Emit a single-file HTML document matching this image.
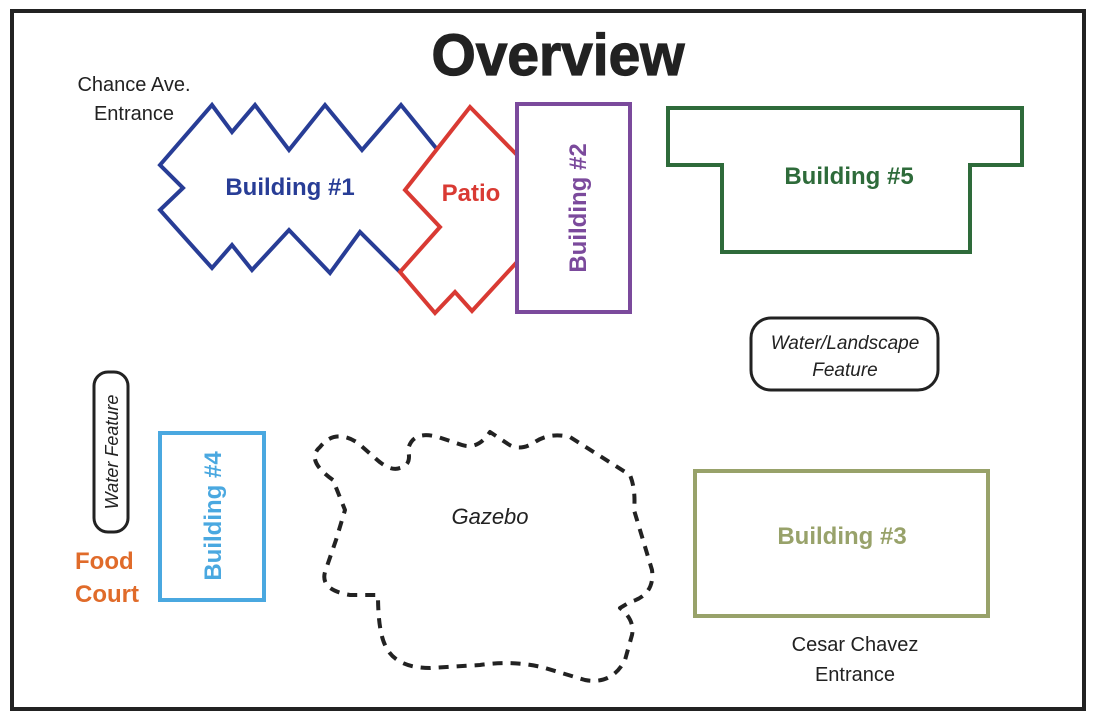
<!DOCTYPE html>
<html><head><style>
html,body{margin:0;padding:0;background:#fff;}
svg{display:block;}
text{font-family:"Liberation Sans",sans-serif;}
</style></head><body>
<svg width="1096" height="718" viewBox="0 0 1096 718" xmlns="http://www.w3.org/2000/svg">
<rect x="12" y="11" width="1072" height="698" fill="none" stroke="#222" stroke-width="4"/>
<text x="558" y="75" font-size="58" font-weight="bold" text-anchor="middle" fill="#222" stroke="#222" stroke-width="1.2" textLength="253" lengthAdjust="spacingAndGlyphs">Overview</text>
<text x="134" y="91" font-size="20" text-anchor="middle" fill="#222">Chance Ave.</text>
<text x="134" y="120" font-size="20" text-anchor="middle" fill="#222">Entrance</text>

<polyline fill="none" stroke="#283d96" stroke-width="4" stroke-linejoin="miter" points="436,148 401,105 362,150 325,105 289,150 255,105 232,132 212,105 160,165 183,188 160,210 212,268 232,245 252,270 289,230 330,273 360,232 400,272"/>
<polyline fill="none" stroke="#d93a33" stroke-width="4" points="517,155 470,107 405,190 440,227 400,272 435,313 455,292 472,311 517,262"/>
<rect x="517" y="104" width="113" height="208" fill="none" stroke="#7b4a9c" stroke-width="4"/>
<polygon fill="none" stroke="#2e6b3a" stroke-width="4" points="668,108 1022,108 1022,165 970,165 970,252 722,252 722,165 668,165"/>
<text x="290" y="195" font-size="24" font-weight="bold" text-anchor="middle" fill="#283d96">Building #1</text>
<text x="471" y="201" font-size="24" font-weight="bold" text-anchor="middle" fill="#d93a33">Patio</text>
<text transform="translate(586,208) rotate(-90)" font-size="24" font-weight="bold" text-anchor="middle" fill="#7b4a9c">Building #2</text>
<text x="849" y="184" font-size="24" font-weight="bold" text-anchor="middle" fill="#2e6b3a">Building #5</text>

<rect x="751" y="318" width="187" height="72" rx="20" fill="none" stroke="#222" stroke-width="3"/>
<text x="845" y="349" font-size="19" font-style="italic" text-anchor="middle" fill="#222">Water/Landscape</text>
<text x="845" y="376" font-size="19" font-style="italic" text-anchor="middle" fill="#222">Feature</text>

<rect x="94" y="372" width="34" height="160" rx="14" fill="none" stroke="#222" stroke-width="3"/>
<text transform="translate(118,452) rotate(-90)" font-size="18" font-style="italic" text-anchor="middle" fill="#222">Water Feature</text>

<rect x="160" y="433" width="104" height="167" fill="none" stroke="#4aa8e0" stroke-width="4"/>
<text transform="translate(221,516) rotate(-90)" font-size="24" font-weight="bold" text-anchor="middle" fill="#4aa8e0">Building #4</text>
<text x="75" y="569" font-size="24" font-weight="bold" fill="#e06b2a">Food</text>
<text x="75" y="602" font-size="24" font-weight="bold" fill="#e06b2a">Court</text>

<path fill="none" stroke="#222" stroke-width="4" stroke-dasharray="10,8" stroke-linejoin="round"
 d="M333,480 Q305,460 320,447 Q335,428 358,443 L375,458 Q390,472 400,468 Q412,465 408,450 Q412,430 438,437 L462,445 Q478,450 490,432 L508,444 Q520,452 535,442 Q550,432 570,437 L630,475 Q636,490 634,510 L652,570 Q655,595 630,602 L620,608 Q635,620 632,635 L625,660 Q612,685 585,680 L545,668 Q515,660 480,665 L430,668 Q395,668 385,645 Q378,630 378,595 L350,595 Q320,590 325,572 L336,540 L345,510 Z"/>
<text x="490" y="524" font-size="22" font-style="italic" text-anchor="middle" fill="#222">Gazebo</text>

<rect x="695" y="471" width="293" height="145" fill="none" stroke="#98a26a" stroke-width="4"/>
<text x="842" y="544" font-size="24" font-weight="bold" text-anchor="middle" fill="#98a26a">Building #3</text>
<text x="855" y="651" font-size="20" text-anchor="middle" fill="#222">Cesar Chavez</text>
<text x="855" y="681" font-size="20" text-anchor="middle" fill="#222">Entrance</text>
</svg>
</body></html>
